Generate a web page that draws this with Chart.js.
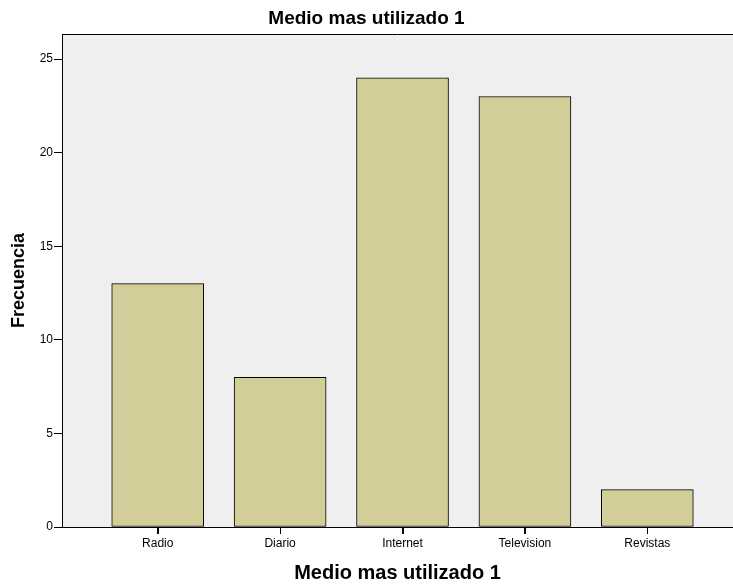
<!DOCTYPE html>
<html lang="es">
<head>
  <meta charset="UTF-8">
  <title>Medio mas utilizado 1</title>
  <script src="https://cdn.jsdelivr.net/npm/chart.js"></script>
  <style>
    html, body { margin: 0; padding: 0; background: #fff; }
    .grafico { width: 733px; height: 585px; }
  </style>
</head>
<body>
  <div class="grafico">
    <canvas id="barraChart"></canvas>
  </div>

  <script>
  // datos
  const categorias = ['Radio', 'Diario', 'Internet', 'Television', 'Revistas'];
  const frecuencias = [13, 8, 24, 23, 2];
  const ticksY = [0, 5, 10, 15, 20, 25];

  Chart.defaults.font.family = '"Liberation Sans", Arial, sans-serif';
  Chart.defaults.color = '#000';

  // fondo gris del area, linea superior y marcas del eje x
  const fondoArea = {
    id: 'fondoArea',
    beforeDraw(chart) {
      const { ctx, chartArea: a } = chart;
      ctx.save();
      ctx.fillStyle = '#efefef';
      ctx.fillRect(a.left, a.top, a.right - a.left, a.bottom - a.top);
      ctx.restore();
    },
    afterDraw(chart) {
      const { ctx, chartArea: a } = chart;
      const x = chart.scales.x;
      ctx.save();
      ctx.strokeStyle = '#000';
      ctx.lineWidth = 1;
      ctx.beginPath();
      ctx.moveTo(a.left, Math.round(a.top) + 0.5);
      ctx.lineTo(a.right, Math.round(a.top) + 0.5);
      categorias.forEach((c, i) => {
        const px = Math.round(x.getPixelForValue(i)) + 0.5;
        ctx.moveTo(px, a.bottom);
        ctx.lineTo(px, a.bottom + 7);
      });
      ctx.stroke();
      ctx.restore();
    }
  };

  const ctx = document.getElementById('barraChart').getContext('2d');
  new Chart(ctx, {
    type: 'bar',
    data: {
      datasets: [{
        label: 'Frecuencia',
        data: frecuencias.map((v, i) => ({ x: i, y: v })),
        backgroundColor: '#d3ce99',
        borderColor: '#000',
        borderWidth: 1,
        borderSkipped: false,
        barThickness: 92
      }]
    },
    options: {
      responsive: true,
      maintainAspectRatio: false,
      animation: false,
      layout: { padding: 0 },
      plugins: {
        legend: { display: false },
        tooltip: { enabled: false },
        title: {
          display: true,
          text: 'Medio mas utilizado 1',
          font: { size: 19, weight: 'bold' },
          padding: { top: 7, bottom: 4.2 }
        }
      },
      scales: {
        x: {
          type: 'linear',
          offset: false,
          min: -0.782,
          max: 4.70,
          afterBuildTicks: (s) => { s.ticks = categorias.map((c, i) => ({ value: i })); },
          afterFit: (s) => { s.height = 58; s.paddingLeft = 0; s.paddingRight = 0; },
          ticks: {
            callback: (v) => categorias[v],
            font: { size: 12 },
            padding: 2,
            maxRotation: 0
          },
          grid: { offset: false, drawOnChartArea: false, tickLength: 7, color: '#000' },
          border: { color: '#000', width: 1 },
          title: {
            display: true,
            text: 'Medio mas utilizado 1',
            font: { size: 20, weight: 'bold' },
            padding: { top: 8, bottom: 0 }
          }
        },
        y: {
          min: 0,
          max: 26.34,
          afterBuildTicks: (s) => { s.ticks = ticksY.map(v => ({ value: v })); },
          afterFit: (s) => { s.width = 62; },
          ticks: { font: { size: 12 }, padding: 1 },
          grid: { drawOnChartArea: false, tickLength: 8, color: '#000' },
          border: { color: '#000', width: 1 },
          title: {
            display: true,
            text: 'Frecuencia',
            font: { size: 18, weight: 'bold' },
            padding: { top: 8.7, bottom: 4 }
          }
        }
      }
    },
    plugins: [fondoArea]
  });
  </script>
</body>
</html>
